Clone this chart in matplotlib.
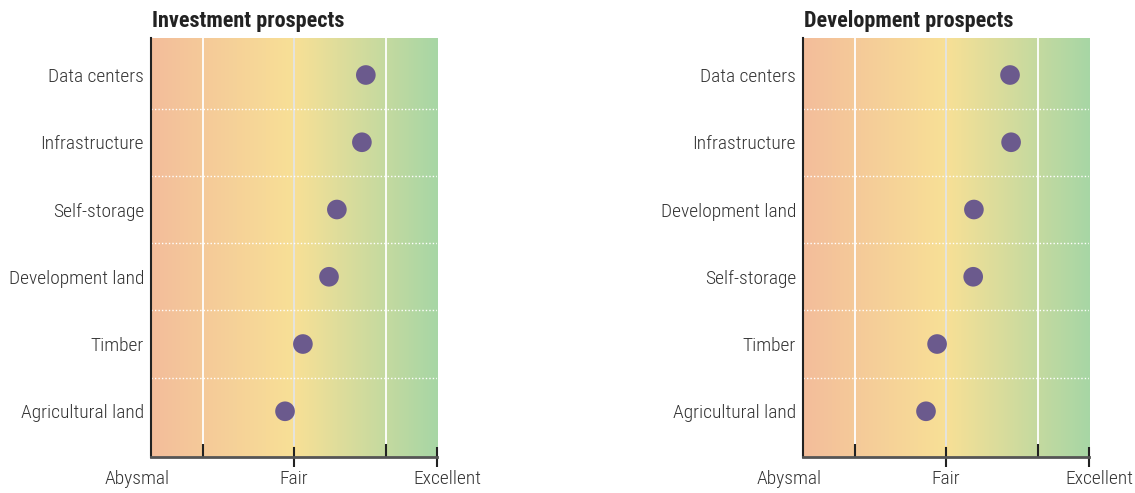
import numpy as np
import matplotlib
matplotlib.use("Agg")
import matplotlib.pyplot as plt
import matplotlib.transforms as mtransforms
from matplotlib.colors import LinearSegmentedColormap

plt.rcParams['font.family'] = ['Roboto Condensed', 'Liberation Sans Narrow', 'Roboto', 'DejaVu Sans']

# data (scale 1 = Abysmal, 5 = Fair, 9 = Excellent)
inv_labels = ["Data centers", "Infrastructure", "Self-storage", "Development land", "Timber", "Agricultural land"]
inv_scores = [7.01, 6.90, 6.20, 5.98, 5.25, 4.75]

dev_labels = ["Data centers", "Infrastructure", "Development land", "Self-storage", "Timber", "Agricultural land"]
dev_scores = [6.79, 6.82, 5.78, 5.76, 4.75, 4.44]

tick_pos = [1, 5, 9]
tick_names = ["Abysmal", "Fair", "Excellent"]
minor_pos = [2.45, 7.58]

cmap = LinearSegmentedColormap.from_list(
    "prospects", [(0.0, "#f3bd9b"), (0.5, "#f8e096"), (1.0, "#a7d6a5")])

fig = plt.figure(figsize=(11.35, 4.93), dpi=100)
ax1 = fig.add_axes([0.1330, 0.0730, 0.2520, 0.8499])
ax2 = fig.add_axes([0.7075, 0.0730, 0.2520, 0.8499])


def draw(ax, labels, scores, title):
    n = len(labels)
    ylo, yhi = -0.55, n - 0.32
    grad = np.linspace(0, 1, 256).reshape(1, -1)
    ax.imshow(grad, cmap=cmap, aspect="auto", extent=[1, 9, yhi, ylo], zorder=0)
    ax.set_xlim(1, 9)
    ax.set_ylim(yhi, ylo)

    # vertical grid lines
    for x in minor_pos + [5]:
        c = "#e4e4e4" if x == 5 else "white"
        ax.plot([x, x], [ylo, n - 0.5], color=c, lw=1.3, zorder=1)
    # dotted row separators
    for y in np.arange(0.5, n - 0.5, 1):
        ax.plot([1, 9], [y, y], color="white", lw=1, ls=(0, (1, 1.5)), zorder=1)

    ax.scatter(scores, range(n), s=200, color="#6b5a8d", zorder=3, edgecolors="none")

    ax.set_yticks(range(n))
    ax.set_yticklabels(labels, fontsize=14, color="#333333", fontweight="light")
    ax.tick_params(axis="y", length=0, pad=5)

    ax.set_xticks(tick_pos)
    ax.set_xticklabels(tick_names, fontsize=14, color="#333333", fontweight="light")
    ax.set_xticks(minor_pos, minor=True)
    ax.tick_params(axis="x", which="major", direction="inout", length=14,
                   width=1.5, color="#222222", pad=2)
    ax.tick_params(axis="x", which="minor", direction="in", length=9.5,
                   width=1.5, color="#222222")
    ax.xaxis.get_major_ticks()[0].tick1line.set_visible(False)

    # end labels sit a little outside the axis ends
    xl = ax.get_xticklabels()
    xl[0].set_transform(xl[0].get_transform() +
                        mtransforms.ScaledTranslation(-0.14, 0, fig.dpi_scale_trans))
    xl[-1].set_transform(xl[-1].get_transform() +
                         mtransforms.ScaledTranslation(0.10, 0, fig.dpi_scale_trans))

    for s in ["top", "right"]:
        ax.spines[s].set_visible(False)
    ax.spines["left"].set_color("#222222")
    ax.spines["left"].set_linewidth(1.5)
    ax.spines["bottom"].set_color("#555555")
    ax.spines["bottom"].set_linewidth(2)

    ax.set_title(title, loc="left", fontsize=16, fontweight="heavy",
                 color="#222222", pad=8, x=0.005)


draw(ax1, inv_labels, inv_scores, "Investment prospects")
draw(ax2, dev_labels, dev_scores, "Development prospects")

fig.savefig("out.png", dpi=100)
